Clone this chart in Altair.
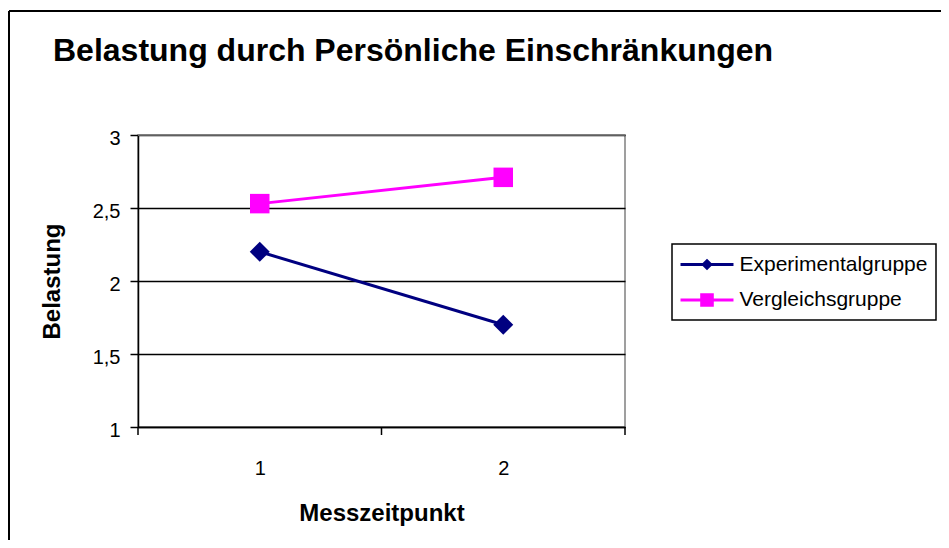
import altair as alt
import pandas as pd

# ---- data ----
groups = ["Experimentalgruppe", "Vergleichsgruppe"]
timepoints = [1, 2]
exp_values = [2.2, 1.7]
ver_values = [2.53, 2.71]
colors = ["#000080", "#FF00FF"]
marker_shapes = ["diamond", "square"]
marker_sizes = [400, 380]
y_ticks = [1, 1.5, 2, 2.5, 3]
x_labels = [1, 2]
x_ticks = [0.5, 1.5, 2.5]

rows = []
for t, v in zip(timepoints, exp_values):
    rows.append({"t": t, "v": v, "g": groups[0]})
for t, v in zip(timepoints, ver_values):
    rows.append({"t": t, "v": v, "g": groups[1]})
df = pd.DataFrame(rows)
tick_df = pd.DataFrame({"t": x_ticks})
top_df = pd.DataFrame({"v": [y_ticks[-1]]})

W, H = 487, 292
FONT = "Liberation Sans"

# legend symbols: a stroked horizontal line plus the marker
legend_shapes = [
    "M-2.5,0H2.5M0,-0.35L0.35,0L0,0.35L-0.35,0Z",
    "M-2.5,0H2.5M-0.5,-0.5H0.5V0.5H-0.5Z",
]

xscale = alt.Scale(domain=[0.5, 2.5], nice=False, zero=False)
yscale = alt.Scale(domain=[1, 3], nice=False, zero=False)
cscale = alt.Scale(domain=groups, range=colors)
sscale = alt.Scale(domain=groups, range=legend_shapes)

x_axis = alt.Axis(
    values=x_labels, tickSize=0, labelPadding=47, labelBaseline="alphabetic",
    labelFontSize=20, labelColor="black", labelFont=FONT,
    domainColor="black", domainWidth=1.5, grid=False,
    title="Messzeitpunkt", titleFontSize=24, titleFontWeight="bold", titleFont=FONT,
    titleColor="black", titleX=W / 2, titleY=86, titleBaseline="middle", titleAlign="center",
)
y_axis = alt.Axis(
    values=y_ticks, labelExpr="replace(format(datum.value, '.1~f'), '.', ',')",
    tickSize=8, tickColor="black", tickWidth=1.5, labelPadding=10, labelOffset=3,
    labelFontSize=20, labelColor="black", labelFont=FONT,
    domainColor="black", domainWidth=1.5,
    grid=True, gridWidth=1.5, gridColor="black",
    title="Belastung", titleFontSize=24, titleFontWeight="bold", titleFont=FONT,
    titleColor="black", titleAngle=270, titleX=-86, titleY=H / 2,
    titleBaseline="middle", titleAlign="center",
)

X = alt.X("t:Q", scale=xscale, axis=x_axis, title="Messzeitpunkt")
Y = alt.Y("v:Q", scale=yscale, axis=y_axis, title="Belastung")

top_line = alt.Chart(top_df).mark_rule(color="#808080", strokeWidth=1.5).encode(y=Y)

line_layers = []
point_layers = []
for g, c, shp, sz in zip(groups, colors, marker_shapes, marker_sizes):
    sub = alt.Chart(df).transform_filter(alt.datum.g == g)
    line_layers.append(sub.mark_line(color=c, strokeWidth=3).encode(x=X, y=Y))
    point_layers.append(
        sub.mark_point(filled=True, shape=shp, color=c, size=sz, opacity=1).encode(x=X, y=Y)
    )

leg = alt.Legend(title=None, orient="none", legendX=534, legendY=109)

# legend source: draws nothing (filtered out), only feeds the legend
legend_src = alt.Chart(df).transform_filter("false").mark_point(filled=True).encode(
    x=X, y=Y,
    fill=alt.Fill("g:N", scale=cscale, legend=leg),
    stroke=alt.Stroke("g:N", scale=cscale, legend=leg),
    shape=alt.Shape("g:N", scale=sscale, legend=leg),
)

xticks = alt.Chart(tick_df).mark_rule(color="black", strokeWidth=1.5).encode(
    x=X, y=alt.value(H), y2=alt.value(H + 8),
)

frame_src = alt.Data(values=[{"k": 1}])
frame_top = alt.Chart(frame_src).mark_rule(color="black", strokeWidth=2).encode(
    x=alt.value(-129), x2=alt.value(900), y=alt.value(-124)
)
frame_left = alt.Chart(frame_src).mark_rule(color="black", strokeWidth=2).encode(
    x=alt.value(-129), y=alt.value(-124), y2=alt.value(500)
)

chart = (
    alt.layer(top_line, *line_layers, *point_layers, legend_src, xticks, frame_top, frame_left)
    .properties(
        width=W, height=H,
        autosize=alt.AutoSizeParams(type="none"),
        padding={"left": 130, "top": 127, "right": 316, "bottom": 113},
        title=alt.TitleParams(
            "Belastung durch Persönliche Einschränkungen",
            anchor="start", frame="group", fontSize=32, fontWeight="bold",
            font=FONT, color="black", dx=-85, dy=83, offset=0, baseline="alphabetic",
        ),
    )
    .configure(font=FONT)
    .configure_view(stroke="#808080", strokeWidth=1.5)
    .configure_legend(
        labelFontSize=21, labelColor="black", labelFont=FONT, labelLimit=400,
        symbolSize=449, symbolStrokeWidth=3, symbolOpacity=1,
        symbolOffset=14.5, labelOffset=20, rowPadding=12.5,
        padding=8, strokeColor="black", strokeWidth=1.5,
    )
)

chart.save("out.html", embed_options={"renderer": "svg", "actions": False})
